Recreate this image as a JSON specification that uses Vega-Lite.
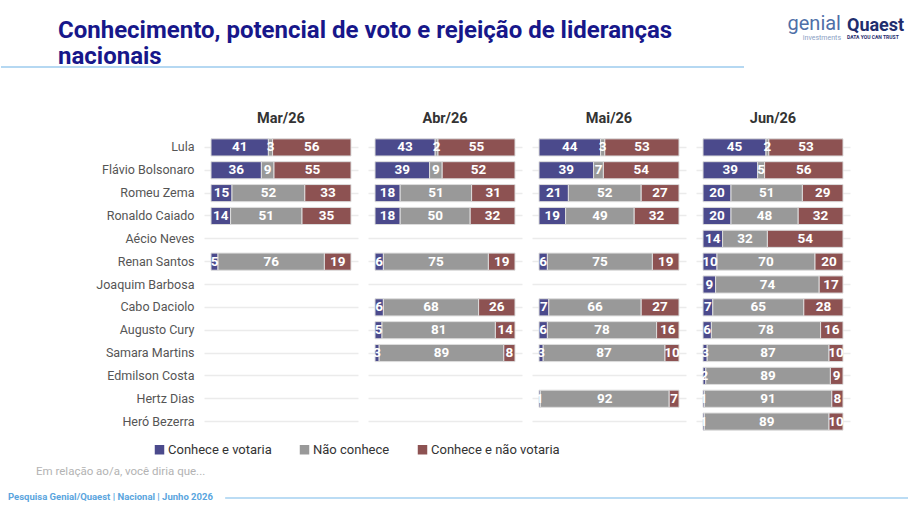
{
  "$schema": "https://vega.github.io/schema/vega-lite/v6.json",
  "background": "white",
  "padding": {"left": 0, "top": 13, "right": 0, "bottom": 0},
  "config": {"font": "Roboto", "view": {"stroke": null}},
  "spacing": 5,
  "resolve": {"scale": {"color": "independent"}},
  "vconcat": [
    {
      "spacing": 5,
      "hconcat": [
        {
          "data": {"values": [{}]},
          "width": 540,
          "height": 0,
          "mark": {"type": "rule", "color": "#9ccbee", "strokeWidth": 1.5},
          "encoding": {
            "x": {"datum": -0.376, "type": "quantitative", "scale": {"domain": [0, 1]}, "axis": null},
            "x2": {"datum": 1}
          },
          "title": {
            "text": ["Conhecimento, potencial de voto e rejeição de lideranças", "nacionais"],
            "anchor": "start", "frame": "group", "dx": -146,
            "fontSize": 24, "fontWeight": "bold", "color": "#17178a", "lineHeight": 26, "offset": -12
          }
        },
        {
          "data": {"values": [{}]},
          "width": 90,
          "height": 48,
          "mark": {"type": "rule", "strokeWidth": 0, "opacity": 0},
          "encoding": {},
          "title": {
            "text": "genial", "subtitle": "investments",
            "anchor": "end", "frame": "group", "offset": 16,
            "fontSize": 20, "fontWeight": "normal", "color": "#4f6fa8",
            "subtitleFontSize": 7, "subtitleColor": "#8aa0c4", "subtitlePadding": 0
          }
        },
        {
          "data": {"values": [{}]},
          "width": 57,
          "height": 48,
          "mark": {"type": "rule", "strokeWidth": 0, "opacity": 0},
          "encoding": {},
          "title": {
            "text": "Quaest", "subtitle": "DATA YOU CAN TRUST",
            "anchor": "start", "frame": "group", "offset": 17,
            "fontSize": 18, "fontWeight": "bold", "color": "#1f2d6e",
            "subtitleFontSize": 5, "subtitleFontWeight": "bold", "subtitleColor": "#1f2d6e", "subtitlePadding": 0
          }
        }
      ]
    },
    {
      "data": {"values": [
        {"m":"Mar/26","n":"Lula","c":"Conhece e votaria","v":41,"k":1},
        {"m":"Mar/26","n":"Lula","c":"Não conhece","v":3,"k":2},
        {"m":"Mar/26","n":"Lula","c":"Conhece e não votaria","v":56,"k":3},
        {"m":"Mar/26","n":"Flávio Bolsonaro","c":"Conhece e votaria","v":36,"k":1},
        {"m":"Mar/26","n":"Flávio Bolsonaro","c":"Não conhece","v":9,"k":2},
        {"m":"Mar/26","n":"Flávio Bolsonaro","c":"Conhece e não votaria","v":55,"k":3},
        {"m":"Mar/26","n":"Romeu Zema","c":"Conhece e votaria","v":15,"k":1},
        {"m":"Mar/26","n":"Romeu Zema","c":"Não conhece","v":52,"k":2},
        {"m":"Mar/26","n":"Romeu Zema","c":"Conhece e não votaria","v":33,"k":3},
        {"m":"Mar/26","n":"Ronaldo Caiado","c":"Conhece e votaria","v":14,"k":1},
        {"m":"Mar/26","n":"Ronaldo Caiado","c":"Não conhece","v":51,"k":2},
        {"m":"Mar/26","n":"Ronaldo Caiado","c":"Conhece e não votaria","v":35,"k":3},
        {"m":"Mar/26","n":"Renan Santos","c":"Conhece e votaria","v":5,"k":1},
        {"m":"Mar/26","n":"Renan Santos","c":"Não conhece","v":76,"k":2},
        {"m":"Mar/26","n":"Renan Santos","c":"Conhece e não votaria","v":19,"k":3},

        {"m":"Abr/26","n":"Lula","c":"Conhece e votaria","v":43,"k":1},
        {"m":"Abr/26","n":"Lula","c":"Não conhece","v":2,"k":2},
        {"m":"Abr/26","n":"Lula","c":"Conhece e não votaria","v":55,"k":3},
        {"m":"Abr/26","n":"Flávio Bolsonaro","c":"Conhece e votaria","v":39,"k":1},
        {"m":"Abr/26","n":"Flávio Bolsonaro","c":"Não conhece","v":9,"k":2},
        {"m":"Abr/26","n":"Flávio Bolsonaro","c":"Conhece e não votaria","v":52,"k":3},
        {"m":"Abr/26","n":"Romeu Zema","c":"Conhece e votaria","v":18,"k":1},
        {"m":"Abr/26","n":"Romeu Zema","c":"Não conhece","v":51,"k":2},
        {"m":"Abr/26","n":"Romeu Zema","c":"Conhece e não votaria","v":31,"k":3},
        {"m":"Abr/26","n":"Ronaldo Caiado","c":"Conhece e votaria","v":18,"k":1},
        {"m":"Abr/26","n":"Ronaldo Caiado","c":"Não conhece","v":50,"k":2},
        {"m":"Abr/26","n":"Ronaldo Caiado","c":"Conhece e não votaria","v":32,"k":3},
        {"m":"Abr/26","n":"Renan Santos","c":"Conhece e votaria","v":6,"k":1},
        {"m":"Abr/26","n":"Renan Santos","c":"Não conhece","v":75,"k":2},
        {"m":"Abr/26","n":"Renan Santos","c":"Conhece e não votaria","v":19,"k":3},
        {"m":"Abr/26","n":"Cabo Daciolo","c":"Conhece e votaria","v":6,"k":1},
        {"m":"Abr/26","n":"Cabo Daciolo","c":"Não conhece","v":68,"k":2},
        {"m":"Abr/26","n":"Cabo Daciolo","c":"Conhece e não votaria","v":26,"k":3},
        {"m":"Abr/26","n":"Augusto Cury","c":"Conhece e votaria","v":5,"k":1},
        {"m":"Abr/26","n":"Augusto Cury","c":"Não conhece","v":81,"k":2},
        {"m":"Abr/26","n":"Augusto Cury","c":"Conhece e não votaria","v":14,"k":3},
        {"m":"Abr/26","n":"Samara Martins","c":"Conhece e votaria","v":3,"k":1},
        {"m":"Abr/26","n":"Samara Martins","c":"Não conhece","v":89,"k":2},
        {"m":"Abr/26","n":"Samara Martins","c":"Conhece e não votaria","v":8,"k":3},

        {"m":"Mai/26","n":"Lula","c":"Conhece e votaria","v":44,"k":1},
        {"m":"Mai/26","n":"Lula","c":"Não conhece","v":3,"k":2},
        {"m":"Mai/26","n":"Lula","c":"Conhece e não votaria","v":53,"k":3},
        {"m":"Mai/26","n":"Flávio Bolsonaro","c":"Conhece e votaria","v":39,"k":1},
        {"m":"Mai/26","n":"Flávio Bolsonaro","c":"Não conhece","v":7,"k":2},
        {"m":"Mai/26","n":"Flávio Bolsonaro","c":"Conhece e não votaria","v":54,"k":3},
        {"m":"Mai/26","n":"Romeu Zema","c":"Conhece e votaria","v":21,"k":1},
        {"m":"Mai/26","n":"Romeu Zema","c":"Não conhece","v":52,"k":2},
        {"m":"Mai/26","n":"Romeu Zema","c":"Conhece e não votaria","v":27,"k":3},
        {"m":"Mai/26","n":"Ronaldo Caiado","c":"Conhece e votaria","v":19,"k":1},
        {"m":"Mai/26","n":"Ronaldo Caiado","c":"Não conhece","v":49,"k":2},
        {"m":"Mai/26","n":"Ronaldo Caiado","c":"Conhece e não votaria","v":32,"k":3},
        {"m":"Mai/26","n":"Renan Santos","c":"Conhece e votaria","v":6,"k":1},
        {"m":"Mai/26","n":"Renan Santos","c":"Não conhece","v":75,"k":2},
        {"m":"Mai/26","n":"Renan Santos","c":"Conhece e não votaria","v":19,"k":3},
        {"m":"Mai/26","n":"Cabo Daciolo","c":"Conhece e votaria","v":7,"k":1},
        {"m":"Mai/26","n":"Cabo Daciolo","c":"Não conhece","v":66,"k":2},
        {"m":"Mai/26","n":"Cabo Daciolo","c":"Conhece e não votaria","v":27,"k":3},
        {"m":"Mai/26","n":"Augusto Cury","c":"Conhece e votaria","v":6,"k":1},
        {"m":"Mai/26","n":"Augusto Cury","c":"Não conhece","v":78,"k":2},
        {"m":"Mai/26","n":"Augusto Cury","c":"Conhece e não votaria","v":16,"k":3},
        {"m":"Mai/26","n":"Samara Martins","c":"Conhece e votaria","v":3,"k":1},
        {"m":"Mai/26","n":"Samara Martins","c":"Não conhece","v":87,"k":2},
        {"m":"Mai/26","n":"Samara Martins","c":"Conhece e não votaria","v":10,"k":3},
        {"m":"Mai/26","n":"Hertz Dias","c":"Conhece e votaria","v":1,"k":1},
        {"m":"Mai/26","n":"Hertz Dias","c":"Não conhece","v":92,"k":2},
        {"m":"Mai/26","n":"Hertz Dias","c":"Conhece e não votaria","v":7,"k":3},

        {"m":"Jun/26","n":"Lula","c":"Conhece e votaria","v":45,"k":1},
        {"m":"Jun/26","n":"Lula","c":"Não conhece","v":2,"k":2},
        {"m":"Jun/26","n":"Lula","c":"Conhece e não votaria","v":53,"k":3},
        {"m":"Jun/26","n":"Flávio Bolsonaro","c":"Conhece e votaria","v":39,"k":1},
        {"m":"Jun/26","n":"Flávio Bolsonaro","c":"Não conhece","v":5,"k":2},
        {"m":"Jun/26","n":"Flávio Bolsonaro","c":"Conhece e não votaria","v":56,"k":3},
        {"m":"Jun/26","n":"Romeu Zema","c":"Conhece e votaria","v":20,"k":1},
        {"m":"Jun/26","n":"Romeu Zema","c":"Não conhece","v":51,"k":2},
        {"m":"Jun/26","n":"Romeu Zema","c":"Conhece e não votaria","v":29,"k":3},
        {"m":"Jun/26","n":"Ronaldo Caiado","c":"Conhece e votaria","v":20,"k":1},
        {"m":"Jun/26","n":"Ronaldo Caiado","c":"Não conhece","v":48,"k":2},
        {"m":"Jun/26","n":"Ronaldo Caiado","c":"Conhece e não votaria","v":32,"k":3},
        {"m":"Jun/26","n":"Aécio Neves","c":"Conhece e votaria","v":14,"k":1},
        {"m":"Jun/26","n":"Aécio Neves","c":"Não conhece","v":32,"k":2},
        {"m":"Jun/26","n":"Aécio Neves","c":"Conhece e não votaria","v":54,"k":3},
        {"m":"Jun/26","n":"Renan Santos","c":"Conhece e votaria","v":10,"k":1},
        {"m":"Jun/26","n":"Renan Santos","c":"Não conhece","v":70,"k":2},
        {"m":"Jun/26","n":"Renan Santos","c":"Conhece e não votaria","v":20,"k":3},
        {"m":"Jun/26","n":"Joaquim Barbosa","c":"Conhece e votaria","v":9,"k":1},
        {"m":"Jun/26","n":"Joaquim Barbosa","c":"Não conhece","v":74,"k":2},
        {"m":"Jun/26","n":"Joaquim Barbosa","c":"Conhece e não votaria","v":17,"k":3},
        {"m":"Jun/26","n":"Cabo Daciolo","c":"Conhece e votaria","v":7,"k":1},
        {"m":"Jun/26","n":"Cabo Daciolo","c":"Não conhece","v":65,"k":2},
        {"m":"Jun/26","n":"Cabo Daciolo","c":"Conhece e não votaria","v":28,"k":3},
        {"m":"Jun/26","n":"Augusto Cury","c":"Conhece e votaria","v":6,"k":1},
        {"m":"Jun/26","n":"Augusto Cury","c":"Não conhece","v":78,"k":2},
        {"m":"Jun/26","n":"Augusto Cury","c":"Conhece e não votaria","v":16,"k":3},
        {"m":"Jun/26","n":"Samara Martins","c":"Conhece e votaria","v":3,"k":1},
        {"m":"Jun/26","n":"Samara Martins","c":"Não conhece","v":87,"k":2},
        {"m":"Jun/26","n":"Samara Martins","c":"Conhece e não votaria","v":10,"k":3},
        {"m":"Jun/26","n":"Edmilson Costa","c":"Conhece e votaria","v":2,"k":1},
        {"m":"Jun/26","n":"Edmilson Costa","c":"Não conhece","v":89,"k":2},
        {"m":"Jun/26","n":"Edmilson Costa","c":"Conhece e não votaria","v":9,"k":3},
        {"m":"Jun/26","n":"Hertz Dias","c":"Conhece e votaria","v":1,"k":1},
        {"m":"Jun/26","n":"Hertz Dias","c":"Não conhece","v":91,"k":2},
        {"m":"Jun/26","n":"Hertz Dias","c":"Conhece e não votaria","v":8,"k":3},
        {"m":"Jun/26","n":"Heró Bezerra","c":"Conhece e votaria","v":1,"k":1},
        {"m":"Jun/26","n":"Heró Bezerra","c":"Não conhece","v":89,"k":2},
        {"m":"Jun/26","n":"Heró Bezerra","c":"Conhece e não votaria","v":10,"k":3}
      ]},
      "facet": {
        "column": {
          "field": "m", "type": "nominal",
          "sort": ["Mar/26", "Abr/26", "Mai/26", "Jun/26"],
          "header": {"title": null, "labelFontSize": 14.5, "labelFontWeight": "bold", "labelColor": "#333333", "labelPadding": 10}
        }
      },
      "spacing": {"column": 10},
      "spec": {
        "width": 154,
        "height": 297,
        "encoding": {
          "y": {
            "field": "n", "type": "nominal",
            "sort": ["Lula", "Flávio Bolsonaro", "Romeu Zema", "Ronaldo Caiado", "Aécio Neves", "Renan Santos", "Joaquim Barbosa", "Cabo Daciolo", "Augusto Cury", "Samara Martins", "Edmilson Costa", "Hertz Dias", "Heró Bezerra"],
            "scale": {"domain": ["Lula", "Flávio Bolsonaro", "Romeu Zema", "Ronaldo Caiado", "Aécio Neves", "Renan Santos", "Joaquim Barbosa", "Cabo Daciolo", "Augusto Cury", "Samara Martins", "Edmilson Costa", "Hertz Dias", "Heró Bezerra"], "paddingInner": 0.25, "paddingOuter": 0.125},
            "axis": {"title": null, "domain": false, "ticks": false, "labelFontSize": 12.5, "labelColor": "#555555", "labelPadding": 10, "grid": true, "gridColor": "#ebebeb", "gridWidth": 1.5, "bandPosition": 0.5}
          },
          "x": {"field": "v", "type": "quantitative", "stack": "zero", "scale": {"domain": [-5, 105], "nice": false}, "axis": null},
          "order": {"field": "k", "type": "quantitative"}
        },
        "layer": [
          {
            "mark": {"type": "bar", "stroke": "#dddddd", "strokeWidth": 1},
            "encoding": {
              "color": {
                "field": "c", "type": "nominal",
                "scale": {"domain": ["Conhece e votaria", "Não conhece", "Conhece e não votaria"], "range": ["#4b4a8c", "#999999", "#8d5252"]},
                "legend": {"orient": "none", "direction": "horizontal", "legendX": -51, "legendY": 307, "title": null, "symbolType": "square", "symbolSize": 90, "symbolStrokeWidth": 0, "labelFontSize": 13, "labelColor": "#333333", "labelOffset": 2, "columnPadding": 26}
              }
            }
          },
          {
            "mark": {"type": "text", "color": "white", "fontWeight": "bold", "fontSize": 13.5},
            "encoding": {
              "x": {"field": "v", "type": "quantitative", "stack": "zero", "bandPosition": 0.5},
              "detail": {"field": "c", "type": "nominal"},
              "text": {"field": "v", "type": "quantitative"}
            }
          }
        ]
      }
    },
    {
      "data": {"values": [{}]},
      "width": 700,
      "height": 0,
      "mark": {"type": "rule", "strokeWidth": 0, "opacity": 0},
      "encoding": {},
      "title": {"text": "Em relação ao/a, você diria que...", "anchor": "start", "frame": "group", "dx": -168, "fontSize": 11.5, "fontWeight": "normal", "color": "#b3b3b3", "offset": -15}
    },
    {
      "data": {"values": [{}]},
      "width": 705,
      "height": 0,
      "mark": {"type": "rule", "color": "#a5d0f0", "strokeWidth": 1.5},
      "encoding": {
        "x": {"datum": 0.03, "type": "quantitative", "scale": {"domain": [0, 1]}, "axis": null},
        "x2": {"datum": 1}
      },
      "title": {"text": "Pesquisa Genial/Quaest | Nacional | Junho 2026", "anchor": "start", "frame": "group", "dx": -196, "baseline": "middle", "offset": -18, "fontSize": 9.5, "fontWeight": "bold", "color": "#5aa5de"}
    }
  ]
}
